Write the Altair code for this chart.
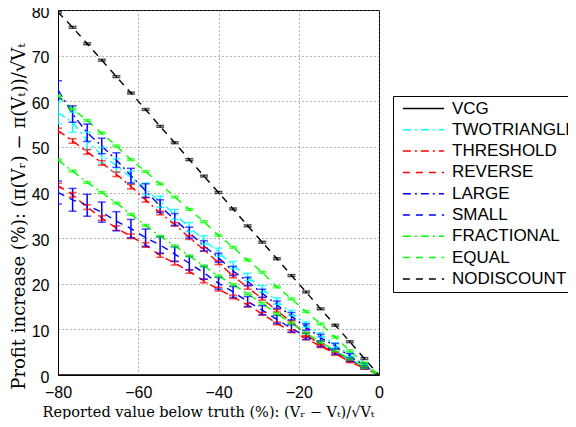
import altair as alt
import pandas as pd

# x positions of the measured points (percent below truth)
x_vals = [-80.0, -76.36, -72.73, -69.09, -65.45, -61.82, -58.18, -54.55, -50.91, -47.27,
          -43.64, -40.0, -36.36, -32.73, -29.09, -25.45, -21.82, -18.18, -14.55, -10.91,
          -7.27, -3.64, 0.0]

names = ["VCG", "TWOTRIANGLE", "THRESHOLD", "REVERSE", "LARGE", "SMALL",
         "FRACTIONAL", "EQUAL", "NODISCOUNT"]
colors = ["#000000", "#00FFFF", "#FF0000", "#FF0000", "#0000FF", "#0000FF",
          "#00FF00", "#00FF00", "#000000"]
dashes = [[1, 0], [8, 4, 2, 4], [8, 4, 2, 4], [7, 6], [8, 4, 2, 4], [7, 6],
          [8, 4, 2, 4], [7, 6], [7, 6]]

vcg = [0.0] * 23
vcg_err = [0.0] * 23

twotriangle = [57.5, 55.4, 51.3, 48.2, 45.9, 43.3, 40.8, 38.0, 35.2, 32.4, 29.6, 26.9,
               24.1, 21.5, 18.9, 16.2, 13.6, 11.1, 8.8, 6.6, 4.4, 2.2, 0.0]
twotriangle_err = [2.5, 2.2, 1.9, 1.7, 1.5, 1.4, 1.3, 1.2, 1.1, 1.0, 0.9, 0.9,
                   0.8, 0.8, 0.7, 0.7, 0.6, 0.6, 0.5, 0.5, 0.4, 0.3, 0.0]

threshold = [53.6, 51.3, 48.9, 46.5, 44.0, 41.3, 38.4, 35.5, 33.0, 30.1, 27.5, 24.6,
             21.7, 19.2, 16.7, 14.1, 11.6, 8.9, 6.6, 4.7, 2.9, 1.5, 0.0]
threshold_err = [0.5, 0.5, 0.5, 0.5, 0.5, 0.5, 0.5, 0.4, 0.4, 0.4, 0.4, 0.4,
                 0.4, 0.4, 0.3, 0.3, 0.3, 0.3, 0.3, 0.3, 0.2, 0.2, 0.0]

reverse = [41.5, 39.5, 36.8, 34.4, 32.2, 30.4, 28.5, 26.2, 24.5, 22.7, 20.6, 18.8,
           17.1, 15.3, 13.4, 11.3, 9.6, 8.0, 6.3, 4.7, 3.1, 1.5, 0.0]
reverse_err = [0.5, 0.5, 0.5, 0.5, 0.5, 0.5, 0.5, 0.4, 0.4, 0.4, 0.4, 0.4,
               0.4, 0.4, 0.3, 0.3, 0.3, 0.3, 0.3, 0.3, 0.2, 0.2, 0.0]

large = [62.5, 57.2, 53.1, 50.2, 47.1, 43.7, 40.4, 37.0, 34.1, 31.2, 28.3, 25.7,
         22.8, 20.5, 17.9, 15.4, 12.9, 10.5, 8.2, 6.3, 4.1, 2.1, 0.0]
large_err = [2.0, 1.8, 1.9, 1.7, 1.6, 1.6, 1.5, 1.4, 1.3, 1.2, 1.1, 1.0,
             1.0, 0.9, 0.9, 0.8, 0.8, 0.7, 0.7, 0.6, 0.6, 0.5, 0.0]

small = [40.0, 38.4, 37.2, 35.7, 33.7, 32.1, 30.1, 28.5, 26.5, 24.5, 22.4, 20.1,
         18.2, 16.1, 14.2, 12.2, 10.2, 8.5, 6.8, 5.1, 3.4, 1.7, 0.0]
small_err = [2.5, 2.5, 2.4, 2.2, 2.1, 2.0, 1.9, 1.8, 1.6, 1.5, 1.4, 1.3,
             1.2, 1.1, 1.0, 0.9, 0.8, 0.7, 0.6, 0.5, 0.4, 0.3, 0.0]

fractional = [47.1, 44.7, 42.2, 40.0, 37.7, 35.2, 32.8, 30.4, 28.3, 26.1, 23.9, 21.7,
              19.8, 17.8, 15.7, 13.4, 11.4, 9.2, 7.2, 5.3, 3.5, 1.7, 0.0]
fractional_err = [0.2] * 22 + [0.0]

equal = [61.2, 58.3, 55.8, 53.0, 50.2, 47.2, 44.6, 41.9, 39.0, 36.3, 33.6, 30.6,
         28.0, 25.2, 22.5, 19.3, 16.7, 13.9, 11.2, 8.3, 5.3, 2.6, 0.0]
equal_err = [0.2] * 22 + [0.0]

nodiscount = [79.5, 76.2, 72.6, 69.0, 65.4, 61.8, 58.2, 54.5, 50.9, 47.2, 43.6, 40.0,
              36.4, 32.7, 29.1, 25.5, 21.8, 18.2, 14.5, 10.9, 7.3, 3.6, 0.0]
nodiscount_err = [0.2] * 22 + [0.0]

values = [vcg, twotriangle, threshold, reverse, large, small, fractional, equal, nodiscount]
errors = [vcg_err, twotriangle_err, threshold_err, reverse_err, large_err, small_err,
          fractional_err, equal_err, nodiscount_err]

rows = []
for name, ys, es in zip(names, values, errors):
    for xv, yv, ev in zip(x_vals, ys, es):
        rows.append({"series": name, "x": xv, "y": yv, "lo": yv - ev, "hi": yv + ev})
df = pd.DataFrame(rows)
err_df = df[df["series"] != "VCG"]

x_title = "Reported value below truth (%):  (V\u1d63 \u2212 V\u209c)/\u221aV\u209c"
y_title = "Profit increase (%):  (\u03c0(V\u1d63) \u2212 \u03c0(V\u209c))/\u221aV\u209c"

x_scale = alt.Scale(domain=[-80, 0], nice=False, zero=False)
y_scale = alt.Scale(domain=[0, 80], nice=False)
x_axis = alt.Axis(values=[-80, -60, -40, -20, 0], title=x_title, labelPadding=9,
                  labelFlush=False,
                  labelExpr="datum.value < 0 ? datum.label + '\u2002\u2009' : datum.label",
                  titleFont="DejaVu Serif", titleFontSize=14.5, titleX=150, titleY=41,
                  titleBaseline="alphabetic", titleAlign="center", titleAnchor="middle")
y_axis = alt.Axis(values=list(range(0, 81, 10)), title=y_title, labelPadding=9,
                  labelOffset=2, titlePadding=3, titleFont="DejaVu Serif",
                  titleFontSize=18, titleY=206, titleAlign="center", titleAnchor="middle")

legend = alt.Legend(title=None, orient="none", legendX=335, legendY=86,
                    symbolType="stroke", symbolSize=1700, symbolStrokeWidth=1.5,
                    labelFont="Liberation Sans", labelFontSize=17, labelColor="black",
                    labelOffset=7, rowPadding=3.3, padding=4, clipHeight=17,
                    strokeColor="black", fillColor="white", symbolOffset=5)

color_l = alt.Color("series:N", scale=alt.Scale(domain=names, range=colors), legend=legend)
dash_l = alt.StrokeDash("series:N", scale=alt.Scale(domain=names, range=dashes), legend=legend)

lines = alt.Chart(df).mark_line(strokeWidth=1.4, clip=True).encode(
    x=alt.X("x:Q", scale=x_scale, axis=x_axis),
    y=alt.Y("y:Q", scale=y_scale, axis=y_axis),
    color=color_l,
    strokeDash=dash_l,
)

rules = alt.Chart(err_df).mark_rule(strokeWidth=1.5, clip=True).encode(
    x=alt.X("x:Q", scale=x_scale, axis=x_axis),
    y=alt.Y("lo:Q", scale=y_scale, axis=y_axis),
    y2="hi:Q",
    color=alt.Color("series:N", legend=None),
)

caps = alt.Chart(err_df).transform_fold(["lo", "hi"], as_=["end", "v"]).mark_tick(
    orient="horizontal", size=8, thickness=1.5, clip=True
).encode(
    x=alt.X("x:Q", scale=x_scale, axis=x_axis),
    y=alt.Y("v:Q", scale=y_scale, axis=y_axis),
    color=alt.Color("series:N", legend=None),
)

chart = alt.layer(lines, rules, caps).properties(
    width=321, height=365,
    autosize=alt.AutoSizeParams(type="none"),
    padding={"left": 50, "top": 2, "right": 189, "bottom": 44},
).configure_axis(
    labelFont="Liberation Sans", labelFontSize=16, labelColor="black",
    titleColor="black", titleFontWeight="normal", domainColor="black", domainWidth=1,
    ticks=False, gridColor="#666666", gridDash=[1, 3], gridWidth=1, gridOpacity=1,
).configure_view(stroke="black", strokeWidth=1)

chart.save("out.html", embed_options={"renderer": "svg", "actions": False})
